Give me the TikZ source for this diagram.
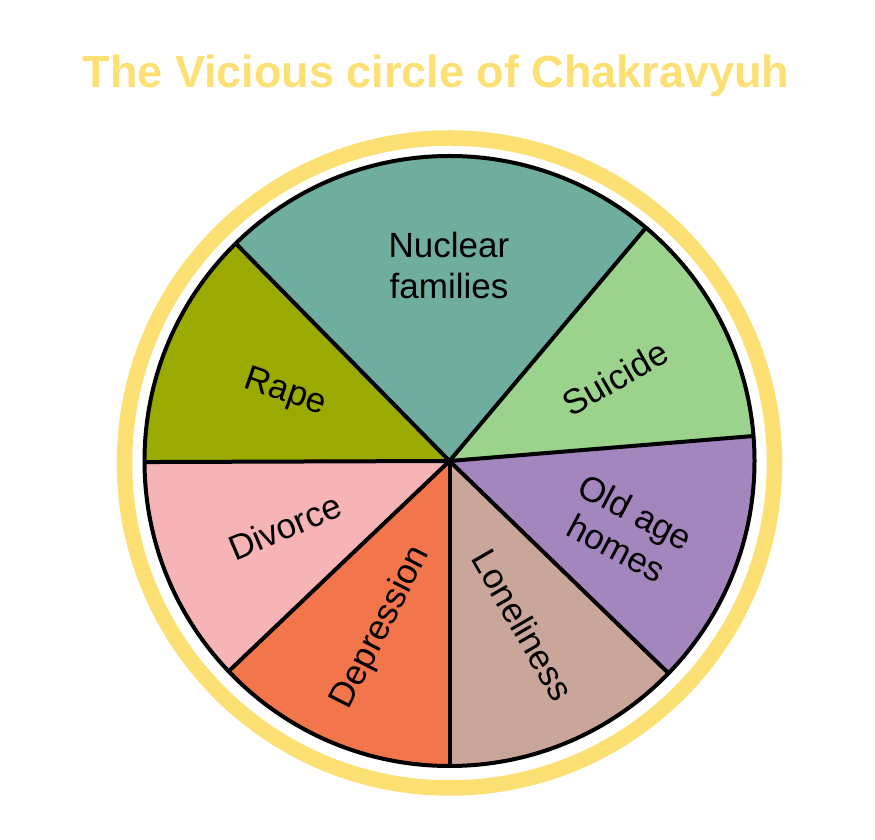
\documentclass[tikz,border=0pt]{standalone}
\usepackage{fontspec}
\setmainfont{Liberation Sans}
\begin{document}
\begin{tikzpicture}[x=1pt,y=1pt,
  border/.style={draw=black,line width=4pt,line join=round},
  lbl/.style={font=\fontsize{35}{41}\selectfont,text=black,align=center,inner sep=0pt},
  ttl/.style={font=\bfseries\fontsize{45}{52}\selectfont,text=ringyellow,inner sep=0pt}]
\definecolor{ringyellow}{HTML}{FDE074}
\definecolor{cteal}{HTML}{6FAD9F}
\definecolor{cgreen}{HTML}{9BD38D}
\definecolor{cpurple}{HTML}{A486BF}
\definecolor{ctan}{HTML}{CAA69A}
\definecolor{corange}{HTML}{F2754B}
\definecolor{cpink}{HTML}{F6B4B7}
\definecolor{colive}{HTML}{9AAA00}
\useasboundingbox (0,0) rectangle (875,840);
\fill[white] (0,0) rectangle (875,840);
\coordinate (C) at (449.5,379);
\def\R{305}
% ring
\draw[ringyellow,line width=15.5pt] (449.5,377) circle[radius=325];
% slices
\fill[cteal]   (C) -- ++(49.9:\R)  arc[start angle=49.9, end angle=134.5, radius=\R] -- cycle;
\fill[colive]  (C) -- ++(134.5:\R) arc[start angle=134.5, end angle=180.2, radius=\R] -- cycle;
\fill[cpink]   (C) -- ++(180.2:\R) arc[start angle=180.2, end angle=223.6, radius=\R] -- cycle;
\fill[corange] (C) -- ++(223.6:\R) arc[start angle=223.6, end angle=270, radius=\R] -- cycle;
\fill[ctan]    (C) -- ++(270:\R)   arc[start angle=270, end angle=315.9, radius=\R] -- cycle;
\fill[cpurple] (C) -- ++(315.9:\R) arc[start angle=315.9, end angle=364.7, radius=\R] -- cycle;
\fill[cgreen]  (C) -- ++(4.7:\R)   arc[start angle=4.7, end angle=49.9, radius=\R] -- cycle;
% borders
\foreach \a in {49.9,134.5,180.2,223.6,270,315.9,4.7}{
  \draw[border] (C) -- ++(\a:\R);
}
\draw[border] (C) circle[radius=\R];
% title
\node[ttl,anchor=base] (title) at (436,752) {The Vicious circle of Chakravyuh};
% labels
\node[lbl] (nuclear) at (449,575) {Nuclear\\families};
\node[lbl,rotate=30] (suicide) at (615,462) {Suicide};
\node[lbl,rotate=-28] (oldage) at (626,310) {Old age\\homes};
\node[lbl,rotate=-60] (lonely) at (523,215) {Loneliness};
\node[lbl,rotate=63] (depression) at (381,212) {Depression};
\node[lbl,rotate=23] (divorce) at (285,313) {Divorce};
\node[lbl,rotate=-19] (rape) at (285,447) {Rape};
\end{tikzpicture}
\end{document}
